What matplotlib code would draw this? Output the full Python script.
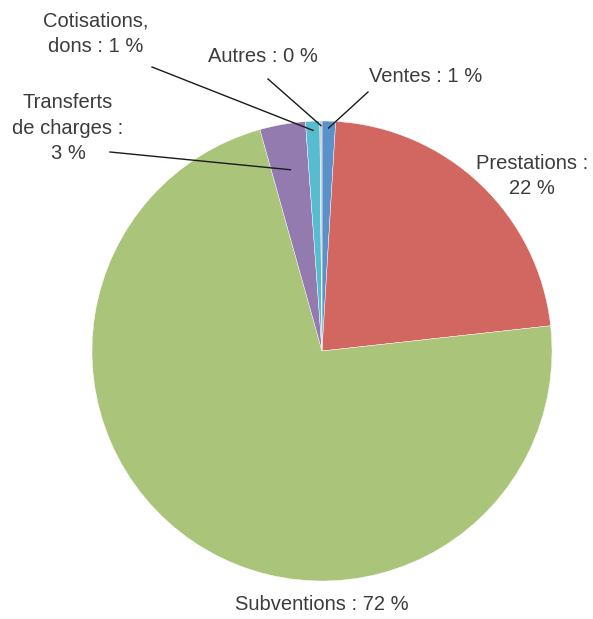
import numpy as np
import matplotlib.pyplot as plt

# Données (en %)
categories = ['Ventes', 'Prestations', 'Subventions', 'Transferts de charges', 'Cotisations, dons', 'Autres']
values = [0.95, 22.3, 72.4, 3.2, 1.0, 0.15]
labels = ['Ventes : 1 %', 'Prestations :\n22 %', 'Subventions : 72 %',
          'Transferts\nde charges :\n3 %', 'Cotisations,\ndons : 1 %', 'Autres : 0 %']
colors = ['#5a91c8', '#d26660', '#aac47a', '#937aaf', '#58bcd0', '#c8c8c8']

W, H = 593, 619
cx, cy, R = 322, 351, 230

def to_data(px, py):
    return (px - cx) / R, (cy - py) / R

fig = plt.figure(figsize=(W / 100, H / 100), dpi=100)
ax = fig.add_axes([0, 0, 1, 1])
wedges, _ = ax.pie(values, colors=colors, startangle=90, counterclock=False,
                   wedgeprops=dict(edgecolor='white', linewidth=0.3))
ax.set_xlim(-cx / R, (W - cx) / R)
ax.set_ylim(-(H - cy) / R, cy / R)
ax.axis('off')

# positions des étiquettes (pixels) et présence d'un trait de rappel
label_pos = [(426, 77, True), (532, 176, False), (322, 605, False),
             (68, 128, True), (96, 34, True), (263, 57, True)]
line_start = {0: (368, 92), 3: (110, 152), 4: (152, 67), 5: (268, 79)}
tip_r = {0: 0.97, 3: 0.8, 4: 0.96, 5: 0.98}

for i, (w, lab) in enumerate(zip(wedges, labels)):
    px, py, has_line = label_pos[i]
    x, y = to_data(px, py)
    ax.text(x, y, lab, ha='center', va='center', fontsize=14.5, color='#3c3c3c',
            family='Liberation Sans', linespacing=1.45)
    if has_line:
        ang = np.deg2rad((w.theta1 + w.theta2) / 2)
        r = tip_r[i]
        sx, sy = to_data(*line_start[i])
        ax.plot([sx, r * np.cos(ang)], [sy, r * np.sin(ang)], color='#1a1a1a', lw=1.0)

plt.savefig('out.png', dpi=100)
